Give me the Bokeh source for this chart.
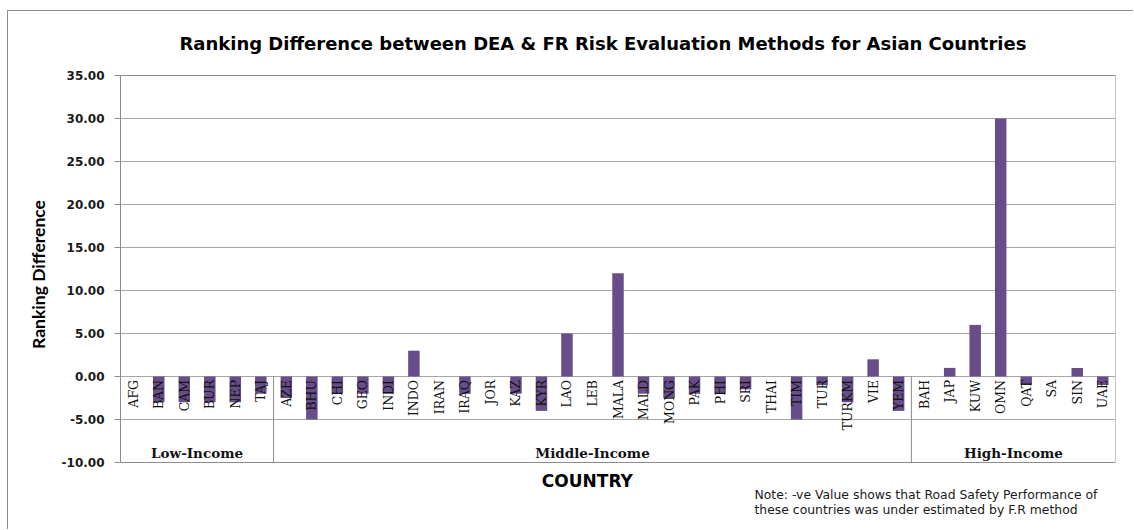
import math
from bokeh.plotting import figure
from bokeh.models import Range1d, FixedTicker, NumeralTickFormatter
from bokeh.core.properties import value
from bokeh.embed import file_html
from bokeh.resources import INLINE

# ---------------- data ----------------
countries = ["AFG", "BAN", "CAM", "BUR", "NEP", "TAJ",
             "AZE", "BHU", "CHI", "GEO", "INDI", "INDO", "IRAN", "IRAQ", "JOR", "KAZ",
             "KYR", "LAO", "LEB", "MALA", "MALD", "MONG", "PAK", "PHI", "SRI", "THAI",
             "TIM", "TUR", "TURKM", "VIE", "YEM",
             "BAH", "JAP", "KUW", "OMN", "QAT", "SA", "SIN", "UAE"]
ranking_diff = [0, -3, -3, -3, -3, -2,
                -2.5, -5, -2, -2, -2, 3, 0, -2, 0, -2,
                -4, 5, 0, 12, -2, -2.5, -2, -2, -1.5, 0,
                -5, -1, -3, 2, -4,
                0, 1, 6, 30, -1, 0, 1, -1]
groups = ["Low-Income", "Middle-Income", "High-Income"]
group_sizes = [6, 25, 8]
y_ticks = [-10, -5, 0, 5, 10, 15, 20, 25, 30, 35]

title_text = "Ranking  Difference between DEA & FR Risk Evaluation  Methods  for Asian  Countries"
x_title = "COUNTRY"
note_lines = ["Note: -ve Value shows that Road Safety Performance of",
              "these countries was under estimated by F.R method"]

n = len(countries)
xs = [i + 0.5 for i in range(n)]
ymin, ymax = y_ticks[0], y_ticks[-1]
px_per_unit = 387 / (ymax - ymin)          # plot-area height / value span
top_extra = 55 / px_per_unit               # room above plot area for the title
bottom_extra = 66 / px_per_unit            # room below plot area for axis title & note

p = figure(width=1126, height=519, output_backend="svg", toolbar_location=None,
           x_range=Range1d(0, n), y_range=Range1d(ymin - bottom_extra, ymax + top_extra),
           min_border_left=112, min_border_right=19, min_border_top=9, min_border_bottom=2,
           styles={"margin-left": "7px", "margin-top": "10px",
                   "border-left": "1px solid #8c8c8c", "border-top": "1px solid #8c8c8c"})

p.background_fill_color = "white"
p.border_fill_color = "white"
p.outline_line_color = None

# axes
p.xaxis.visible = False
p.xgrid.visible = False
p.yaxis.bounds = (ymin, ymax)
p.yaxis.ticker = FixedTicker(ticks=y_ticks)
p.ygrid.ticker = FixedTicker(ticks=y_ticks)
p.ygrid.grid_line_color = "#a6a6a6"
p.ygrid.grid_line_width = 1
p.yaxis.formatter = NumeralTickFormatter(format="0.00")
p.yaxis.major_label_text_font = "DejaVu Sans"
p.yaxis.major_label_text_font_style = "bold"
p.yaxis.major_label_text_font_size = "12px"
p.yaxis.major_label_text_color = "#1a1a1a"
p.yaxis.major_label_standoff = 10
p.yaxis.major_tick_out = 6
p.yaxis.major_tick_in = 0
p.yaxis.minor_tick_out = 0
p.yaxis.minor_tick_in = 0
p.yaxis.axis_line_color = "#8c8c8c"
p.yaxis.major_tick_line_color = "#8c8c8c"
p.yaxis.axis_label = "Ranking Difference"
p.yaxis.axis_label_text_font = "Lato"
p.yaxis.axis_label_text_font_style = "bold"
p.yaxis.axis_label_text_font_size = "17.5px"
p.yaxis.axis_label_text_color = "#000000"
p.yaxis.axis_label_standoff = 10

# plot-area box
p.quad(left=[0], right=[n], bottom=[ymin], top=[ymax],
       fill_color=None, line_color="#8c8c8c", line_width=1)

# bars
p.vbar(x=xs, top=ranking_diff, bottom=0, width=0.45,
       fill_color="#684e89", line_color=None)

# country labels (rotated, below zero line)
p.text(x=xs, y=[-0.4] * n, text=countries, angle=math.pi / 2,
       text_align="right", text_baseline="middle",
       text_font=value("DejaVu Serif"), text_font_size="12.5px", text_color="#111111")

# group separators and group labels
bounds = [0]
for s in group_sizes:
    bounds.append(bounds[-1] + s)
sep_x = bounds[1:-1]
p.segment(x0=sep_x, y0=[0] * len(sep_x), x1=sep_x, y1=[ymin] * len(sep_x),
          line_color="#8c8c8c", line_width=1)
gx = [(bounds[i] + bounds[i + 1]) / 2 for i in range(len(groups))]
p.text(x=gx, y=[-8.95] * len(groups), text=groups,
       text_align="center", text_baseline="middle",
       text_font=value("DejaVu Serif"), text_font_style="bold",
       text_font_size="13.5px", text_color="#111111")

# chart title
p.text(x=[19.4], y=[ymax + 32 / px_per_unit], text=[title_text],
       text_align="center", text_baseline="middle",
       text_font=value("DejaVu Sans"), text_font_style="bold",
       text_font_size="18px", text_color="#000000")
# x axis title
p.text(x=[18.3], y=[ymin - 18 / px_per_unit], text=[x_title],
       text_align="center", text_baseline="middle",
       text_font=value("DejaVu Sans"), text_font_style="bold",
       text_font_size="17px", text_color="#000000")
# note
p.text(x=[24.85, 24.85], y=[ymin - 32 / px_per_unit, ymin - 47 / px_per_unit], text=note_lines,
       text_align="left", text_baseline="middle",
       text_font=value("DejaVu Sans"), text_font_size="12.4px", text_color="#1a1a1a")

open("out.html", "w").write(file_html(p, INLINE))
